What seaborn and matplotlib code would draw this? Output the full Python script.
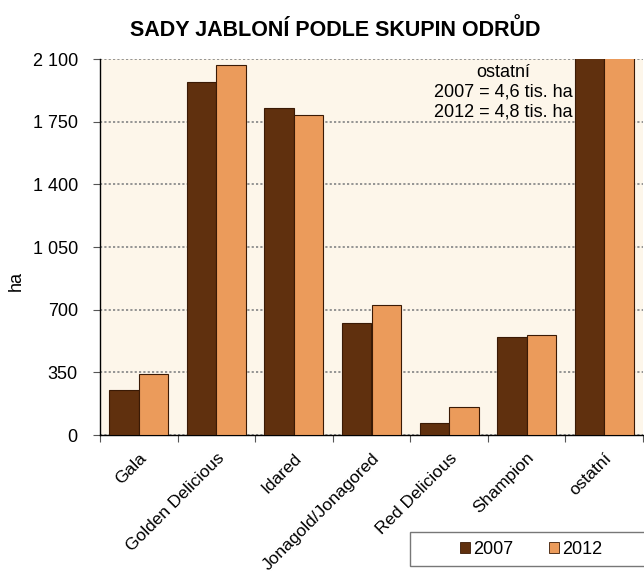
import matplotlib
matplotlib.use("Agg")
import matplotlib.pyplot as plt
import matplotlib.transforms as mtransforms
import seaborn as sns
import pandas as pd
from matplotlib.ticker import FuncFormatter, FixedLocator
from matplotlib.patches import Patch, Rectangle

categories = ["Gala", "Golden Delicious", "Idared", "Jonagold/Jonagored",
              "Red Delicious", "Shampion", "ostatní"]
values_2007 = [250, 1970, 1825, 625, 65, 545, 4600]
values_2012 = [340, 2066, 1786, 726, 158, 560, 4800]
years = ["2007", "2012"]
yticks = [0, 350, 700, 1050, 1400, 1750, 2100]

df = pd.DataFrame({
    "odrůda": categories * 2,
    "rok": [years[0]] * len(categories) + [years[1]] * len(categories),
    "ha": values_2007 + values_2012,
})

sns.set_style("white", {"xtick.bottom": True, "ytick.left": True})
plt.rcParams["font.family"] = ["Liberation Sans", "DejaVu Sans"]
for k in ["text.color", "axes.labelcolor", "xtick.color", "ytick.color"]:
    plt.rcParams[k] = "black"

fig = plt.figure(figsize=(6.44, 5.79), dpi=100)
ax = fig.add_axes([100/644, 1 - 435/579, 543/644, (435 - 59)/579])
ax.set_facecolor("#FDF6EA")

palette = {"2007": "#60300E", "2012": "#EB9B5B"}
sns.barplot(data=df, x="odrůda", y="ha", hue="rok", palette=palette,
            width=0.76, edgecolor="#3A1A05", linewidth=0.8, saturation=1,
            ax=ax, legend=False, zorder=3)

ax.set_ylim(0, 2100)
ax.set_xlim(-0.5, len(categories) - 0.5)
ax.yaxis.set_major_locator(FixedLocator(yticks))
ax.yaxis.set_major_formatter(FuncFormatter(lambda v, p: f"{int(v):,}".replace(",", " ")))
ax.grid(axis="y", color="#8C8C8C", linestyle=(0, (1.2, 1.2)), linewidth=1.3, zorder=1)
ax.grid(axis="x", visible=False)
ax.set_axisbelow(True)

for s in ["top", "right"]:
    ax.spines[s].set_visible(False)
for s in ["left", "bottom"]:
    ax.spines[s].set_color("black")
    ax.spines[s].set_linewidth(1.0)

# category boundary ticks on x
ax.set_xticks([i - 0.5 for i in range(len(categories) + 1)], minor=False)
ax.set_xticklabels([])
ax.set_xticks(range(len(categories)), minor=True)
ax.set_xticklabels(categories, minor=True, rotation=45, ha="right",
                   rotation_mode="anchor", fontsize=12.5)
offset = mtransforms.ScaledTranslation(-6/100, 0, fig.dpi_scale_trans)
for lbl in ax.get_xticklabels(minor=True):
    lbl.set_transform(lbl.get_transform() + offset)
ax.tick_params(axis="x", which="major", length=5, width=0.8, color="#555555", direction="out")
ax.tick_params(axis="x", which="minor", length=0, pad=11)
ax.tick_params(axis="y", length=5, width=0.8, color="#555555", direction="out",
               labelsize=13, pad=11)

ax.set_xlabel("")
ax.set_ylabel("ha", fontsize=13)
ax.yaxis.set_label_coords((25 - 100) / 543, 0.41)

fig.text(335/644, 1 - 30/579, "SADY JABLONÍ PODLE SKUPIN ODRŮD",
         ha="center", va="center", fontsize=15.5, fontweight="bold")

ax.text(4.695, 1915, "ostatní\n2007 = 4,6 tis. ha\n2012 = 4,8 tis. ha",
        ha="center", va="center", multialignment="center", fontsize=13,
        linespacing=1.2, zorder=2)

# legend box
fig.patches.append(Rectangle((410/644, 1 - 566/579), 260/644, 34.5/579,
                             transform=fig.transFigure, facecolor="white",
                             edgecolor="#777777", linewidth=1.0))
handles = [Patch(facecolor=palette[y], edgecolor="#3A1A05", linewidth=0.6) for y in years]
leg = fig.legend(handles, years, loc="center", bbox_to_anchor=(531/644, 1 - 549/579),
                 ncol=2, frameon=False, fontsize=13,
                 handlelength=0.55, handleheight=0.55, handletextpad=0.15,
                 columnspacing=2.0)

fig.savefig("out.png", dpi=100)
